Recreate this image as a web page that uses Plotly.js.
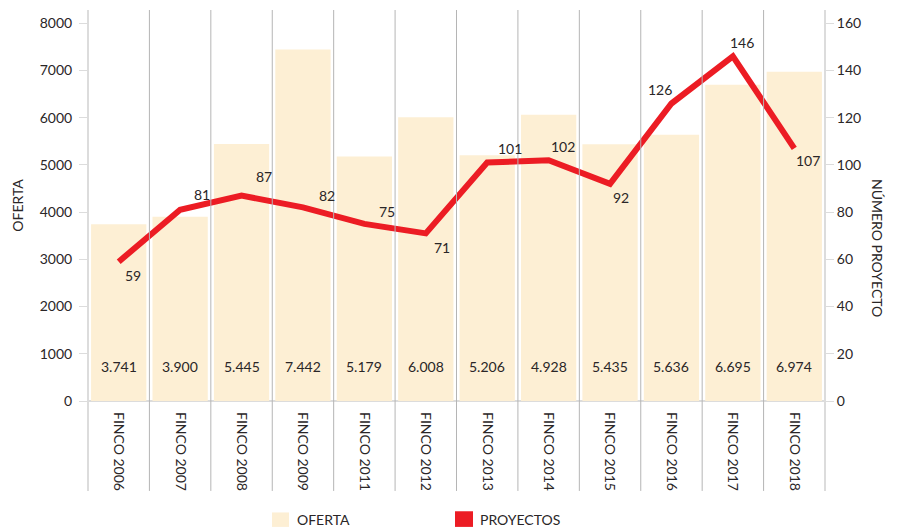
<!DOCTYPE html>
<html><head><meta charset="utf-8">
<script src="https://cdn.plot.ly/plotly-3.0.1.min.js"></script>
<style>html,body{margin:0;padding:0;background:#fff}#chart{width:902px;height:528px}</style>
</head><body><div id="chart"></div>
<script>
const categories = ['FINCO 2006','FINCO 2007','FINCO 2008','FINCO 2009','FINCO 2011','FINCO 2012','FINCO 2013','FINCO 2014','FINCO 2015','FINCO 2016','FINCO 2017','FINCO 2018'];
const oferta = [3741, 3900, 5445, 7442, 5179, 6008, 5206, 6060, 5435, 5636, 6695, 6974];
const ofertaLabels = ['3.741','3.900','5.445','7.442','5.179','6.008','5.206','4.928','5.435','5.636','6.695','6.974'];
const proyectos = [59, 81, 87, 82, 75, 71, 101, 102, 92, 126, 146, 107];

// label offsets (style only)
const lblOff = [[14,-14],[22,15],[22,19],[24,12],[23,12],[16,-14],[23,14],[14,14],[11,-14],[-11,14],[9,14],[14,-12]];

const FONT = 'Lato, "Open Sans", sans-serif';
const TXT = '#2a2627';
const RED = '#EC1C24';
const BEIGE = '#FDEFD4';

const traces = [
  {type:'bar', x:categories, y:oferta, name:'OFERTA', marker:{color:BEIGE}, width:0.9, showlegend:false, hoverinfo:'skip'},
  {type:'scatter', mode:'lines', x:categories, y:proyectos, yaxis:'y2', name:'PROYECTOS', line:{color:RED, width:6}, showlegend:false}
];

const annotations = [];
const shapes = [];
categories.forEach((c,i)=>{
  annotations.push({x:c, y:730, xref:'x', yref:'y', text:ofertaLabels[i], showarrow:false, font:{family:FONT, size:14, color:TXT}});
  annotations.push({x:c, y:proyectos[i], xref:'x', yref:'y2', text:String(proyectos[i]), showarrow:false,
    xshift:lblOff[i][0], yshift:lblOff[i][1], font:{family:FONT, size:14, color:TXT}});
});
// category separators
for (let i=1;i<categories.length;i++){
  shapes.push({type:'line', xref:'x', yref:'paper', x0:i-0.5, x1:i-0.5, y0:-0.23, y1:1, line:{color:'#b5b5b5', width:1}, layer:'above'});
}
// axis lines
shapes.push({type:'line', xref:'paper', yref:'paper', x0:0, x1:0, y0:-0.23, y1:1, line:{color:'#dcdcdc', width:2}});
shapes.push({type:'line', xref:'paper', yref:'paper', x0:1, x1:1, y0:-0.23, y1:1, line:{color:'#dcdcdc', width:2}});
shapes.push({type:'line', xref:'paper', yref:'paper', x0:0, x1:1, y0:0, y1:0, line:{color:'#dcdcdc', width:2}, layer:'below'});
// legend
shapes.push({type:'rect', xref:'paper', yref:'paper', x0:(272-88)/737, x1:(289-88)/737, y0:-0.322, y1:-0.285, fillcolor:BEIGE, line:{width:0}});
shapes.push({type:'rect', xref:'paper', yref:'paper', x0:(455-88)/737, x1:(473-88)/737, y0:-0.322, y1:-0.282, fillcolor:RED, line:{width:0}});
annotations.push({xref:'paper', yref:'paper', x:(295-88)/737, y:-0.302, xanchor:'left', yanchor:'middle', text:'OFERTA', showarrow:false, font:{family:FONT, size:14, color:TXT}});
annotations.push({xref:'paper', yref:'paper', x:(478-88)/737, y:-0.302, xanchor:'left', yanchor:'middle', text:'PROYECTOS', showarrow:false, font:{family:FONT, size:14, color:TXT}});
// right axis title
annotations.push({xref:'paper', yref:'paper', x:(878-88)/737, y:(401-248)/391, xanchor:'center', yanchor:'middle', textangle:90, text:'NÚMERO PROYECTO', showarrow:false, font:{family:FONT, size:14, color:TXT}});

const layout = {
  width:902, height:528,
  margin:{l:88, r:77, t:10, b:127},
  paper_bgcolor:'#fff', plot_bgcolor:'#fff',
  showlegend:false,
  font:{family:FONT, size:14, color:TXT},
  xaxis:{type:'category', tickangle:90, showgrid:false, zeroline:false, showline:false, ticks:'', ticklabelstandoff:10, tickfont:{family:FONT, size:14, color:TXT}, range:[-0.5, 11.5]},
  yaxis:{range:[0, 8280], tickvals:[0,1000,2000,3000,4000,5000,6000,7000,8000], showgrid:false, zeroline:false, showline:false,
    ticks:'outside', ticklen:8, tickcolor:'#dcdcdc', tickwidth:1, ticklabelstandoff:4,
    title:{text:'OFERTA', font:{family:FONT, size:14, color:TXT}, standoff:12}},
  yaxis2:{overlaying:'y', side:'right', range:[0, 165.6], tickvals:[0,20,40,60,80,100,120,140,160], showgrid:false, zeroline:false, showline:false,
    ticks:'outside', ticklen:8, tickcolor:'#dcdcdc', tickwidth:1},
  shapes:shapes, annotations:annotations
};
Plotly.newPlot('chart', traces, layout, {displayModeBar:false, staticPlot:true});
</script></body></html>
